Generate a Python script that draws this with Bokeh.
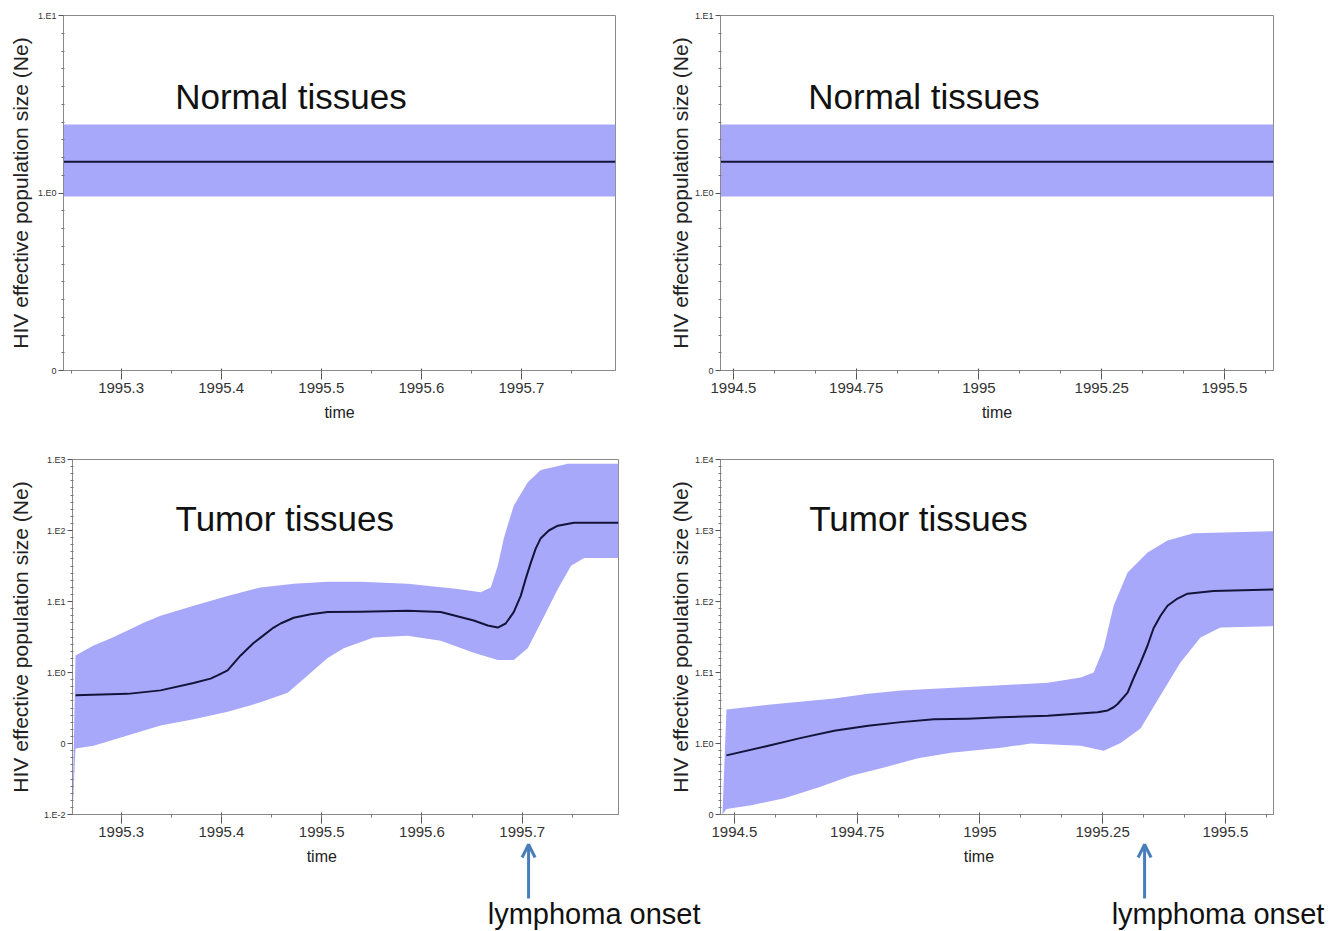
import math
from bokeh.plotting import figure
from bokeh.layouts import column, row
from bokeh.models import FixedTicker, CustomJSTickFormatter, Label, Arrow, OpenHead, Range1d
from bokeh.embed import file_html
from bokeh.resources import INLINE

# ---------------- data ----------------
# Normal tissues (constant skyline) -- left panel (1995.x) and right panel (1994.5-1995.6)
normal_left_t = [1995.2424, 1995.794]
normal_right_t = [1994.4736, 1995.600]
normal_median = [1.5, 1.5]
normal_upper = [2.43, 2.43]
normal_lower = [0.955, 0.955]

# Tumor tissues, left panel
tl_med_t = [1995.2544, 1995.3063, 1995.3392, 1995.3722, 1995.3891, 1995.3961, 1995.4061, 1995.4191,
            1995.4320, 1995.4390, 1995.4520, 1995.4590, 1995.4720, 1995.4889, 1995.5059, 1995.5388,
            1995.5857, 1995.6187, 1995.6516, 1995.6656, 1995.6756, 1995.6835, 1995.6915, 1995.6985,
            1995.7035, 1995.7085, 1995.7135, 1995.7185, 1995.7265, 1995.7355, 1995.7515, 1995.7960]
tl_med = [0.48, 0.50, 0.56, 0.71, 0.82, 0.91, 1.07, 1.74, 2.6, 3.1, 4.3, 4.9, 5.9, 6.6, 7.1, 7.2,
          7.4, 7.1, 5.4, 4.6, 4.3, 4.9, 7.1, 12, 21, 35, 56, 78, 100, 117, 129, 129]
tl_up_t = [1995.2544, 1995.2724, 1995.2893, 1995.3063, 1995.3223, 1995.3392, 1995.3722, 1995.4061,
           1995.4390, 1995.4720, 1995.5059, 1995.5388, 1995.5857, 1995.6356, 1995.6586, 1995.6686,
           1995.6756, 1995.6816, 1995.6915, 1995.7055, 1995.7185, 1995.7455, 1995.7960]
tl_up = [1.74, 2.4, 3.0, 3.9, 5.0, 6.3, 8.7, 12, 15.8, 17.8, 19, 19, 17.8, 15, 13.5, 15.8,
         32, 78, 224, 480, 710, 870, 870]
tl_lo_t = [1995.2514, 1995.2544, 1995.2724, 1995.3063, 1995.3392, 1995.3722, 1995.4061, 1995.4390,
           1995.4660, 1995.4859, 1995.5059, 1995.5219, 1995.5518, 1995.5857, 1995.6187, 1995.6516,
           1995.6756, 1995.6915, 1995.7055, 1995.7185, 1995.7355, 1995.7487, 1995.7617, 1995.7960]
tl_lo = [0.01, 0.085, 0.093, 0.13, 0.18, 0.22, 0.28, 0.38, 0.52, 0.91, 1.6, 2.2, 3.1, 3.3, 2.8,
         1.9, 1.5, 1.5, 2.2, 5.0, 15, 32, 41, 41]

# Tumor tissues, right panel
tr_med_t = [1994.4837, 1994.5691, 1994.6362, 1994.7033, 1994.7724, 1994.8394, 1994.9065, 1994.9756,
            1995.0427, 1995.1382, 1995.2398, 1995.2602, 1995.2724, 1995.2805, 1995.3008, 1995.3130,
            1995.3272, 1995.3415, 1995.3537, 1995.3679, 1995.3821, 1995.4024, 1995.4228, 1995.4756,
            1995.5976]
tr_med = [0.68, 0.93, 1.2, 1.51, 1.78, 2.0, 2.19, 2.24, 2.34, 2.45, 2.75, 2.92, 3.24, 3.6, 5.2,
          8.3, 13.8, 24, 42, 63, 87, 110, 129, 141, 148]
tr_up_t = [1994.4837, 1994.5691, 1994.7033, 1994.7724, 1994.8394, 1994.9065, 1995.0427, 1995.1382,
           1995.2053, 1995.2317, 1995.2520, 1995.2724, 1995.3008, 1995.3415, 1995.3821, 1995.4350,
           1995.5976]
tr_up = [3.0, 3.5, 4.3, 5.0, 5.6, 5.9, 6.6, 7.2, 8.5, 10, 22, 87, 257, 490, 724, 912, 977]
tr_lo_t = [1994.4756, 1994.4837, 1994.5346, 1994.6016, 1994.6707, 1994.7378, 1994.8049, 1994.8740,
           1994.9411, 1995.0427, 1995.1037, 1995.2053, 1995.2520, 1995.2866, 1995.3272, 1995.3679,
           1995.4085, 1995.4492, 1995.4898, 1995.5976]
tr_lo = [0.1, 0.12, 0.135, 0.17, 0.24, 0.35, 0.46, 0.62, 0.74, 0.87, 1.0, 0.93, 0.79, 1.02, 1.62,
         4.8, 13.8, 31, 43, 45]

left_xticks = [1995.3, 1995.4, 1995.5, 1995.6, 1995.7]
right_xticks = [1994.5, 1994.75, 1995.0, 1995.25, 1995.5]

# lymphoma onset times
onset_left = 1995.7063
onset_right = 1995.3354

# ---------------- style ----------------
FONT = "Liberation Sans"
BAND = "#a7a8f9"
LINE = "#14143a"
AXIS = "#8a8a8a"
ARROW = "#4a7ebb"

yfmt_code = "const e = Math.round(Math.log10(tick)); return e == -1 ? '0' : '1.E' + e;"
xfmt_code = "return String(Math.round(tick*100)/100);"


def make_fig(width, height, bl, br, bt, bb, xr, yr, xticks, xminor_step, ylab_standoff, xlabel=True):
    p = figure(width=width, height=height, x_range=Range1d(*xr), y_range=Range1d(*yr),
               y_axis_type="log", output_backend="svg", toolbar_location=None,
               min_border_left=bl, min_border_right=br, min_border_top=bt, min_border_bottom=bb)
    p.grid.visible = False
    p.outline_line_color = AXIS
    p.outline_line_width = 1
    lo_e = round(math.log10(yr[0]))
    hi_e = round(math.log10(yr[1]))
    yt = [10.0 ** k for k in range(lo_e, hi_e + 1)]
    ym = [10.0 ** (k + i / 10) for k in range(lo_e, hi_e) for i in range(1, 10)]
    p.yaxis.ticker = FixedTicker(ticks=yt, minor_ticks=ym)
    p.yaxis.formatter = CustomJSTickFormatter(code=yfmt_code)
    n = int(round((xr[1] - xr[0]) / xminor_step)) + 8
    start = xticks[0] - 2 * xminor_step
    xm = [start + i * xminor_step for i in range(n)]
    p.xaxis.ticker = FixedTicker(ticks=xticks, minor_ticks=xm)
    p.xaxis.formatter = CustomJSTickFormatter(code=xfmt_code)

    p.yaxis.axis_label = "HIV effective population size (Ne)"
    if xlabel:
        p.xaxis.axis_label = "time"
    for ax in (p.xaxis[0], p.yaxis[0]):
        ax.axis_line_color = AXIS
        ax.major_tick_line_color = "#555555"
        ax.minor_tick_line_color = "#777777"
        ax.axis_label_text_font = FONT
        ax.axis_label_text_font_style = "normal"
        ax.axis_label_text_color = "#222222"
        ax.major_label_text_font = FONT
        ax.major_label_text_color = "#333333"
    p.yaxis.major_tick_out = 5
    p.yaxis.major_tick_in = 0
    p.yaxis.minor_tick_out = 2
    p.yaxis.minor_tick_in = 1
    p.yaxis.major_label_text_font_size = "9px"
    p.yaxis.major_label_standoff = 2
    p.yaxis.axis_label_text_font_size = "21px"
    p.yaxis.axis_label_standoff = ylab_standoff
    p.xaxis.major_tick_out = 9
    p.xaxis.major_tick_in = 2
    p.xaxis.minor_tick_out = 3
    p.xaxis.minor_tick_in = 0
    p.xaxis.major_label_text_font_size = "15px"
    p.xaxis.major_label_standoff = 3
    p.xaxis.axis_label_text_font_size = "16px"
    p.xaxis.axis_label_standoff = 8
    return p


def add_band(p, up_t, up, lo_t, lo, med_t, med):
    p.patch(list(up_t) + list(lo_t)[::-1], list(up) + list(lo)[::-1],
            fill_color=BAND, line_color=None)
    p.line(med_t, med, line_color=LINE, line_width=2, line_join="round")


def add_title(p, x, y, text):
    p.add_layout(Label(x=x, y=y, text=text, text_font=FONT, text_font_size="35px",
                       text_baseline="middle", text_align="left", text_color="#111111"))


def strip_range(xr, frame_left, frame_w, total_w):
    # time range of a full-width strip sharing a panel's time scale
    scale = frame_w / (xr[1] - xr[0])
    return (xr[0] - frame_left / scale, xr[0] + (total_w - frame_left) / scale)


bl_xr = (1995.2514, 1995.796)
br_xr = (1994.4716, 1995.598)

LEFT_W = 665
RIGHT_W = 672
R_BORDER = 55

# top-left
p1 = make_fig(LEFT_W, 450, 63, 50, 15, 80, (1995.2424, 1995.794), (0.1, 10), left_xticks, 0.05, 3)
add_band(p1, normal_left_t, normal_upper, normal_left_t, normal_lower, normal_left_t, normal_median)
add_title(p1, 1995.354, 3.5, "Normal tissues")

# top-right
p2 = make_fig(RIGHT_W, 450, R_BORDER, 64, 15, 80, (1994.4736, 1995.600), (0.1, 10), right_xticks,
              0.25 / 3, 0)
add_band(p2, normal_right_t, normal_upper, normal_right_t, normal_lower, normal_right_t, normal_median)
add_title(p2, 1994.6524, 3.5, "Normal tissues")

# bottom-left
p3 = make_fig(LEFT_W, 390, 72, 47, 9, 26, bl_xr, (0.01, 1000), left_xticks, 0.05, 9, xlabel=False)
add_band(p3, tl_up_t, tl_up, tl_lo_t, tl_lo, tl_med_t, tl_med)
add_title(p3, 1995.3542, 147, "Tumor tissues")

# bottom-right
p4 = make_fig(RIGHT_W, 390, R_BORDER, 64, 9, 26, br_xr, (0.1, 10000), right_xticks, 0.25 / 3, 0,
              xlabel=False)
add_band(p4, tr_up_t, tr_up, tr_lo_t, tr_lo, tr_med_t, tr_med)
add_title(p4, 1994.6524, 1476, "Tumor tissues")

# full-width strip under the bottom panels: "time" labels, arrows, "lymphoma onset"
TOTAL_W = LEFT_W + RIGHT_W
s = figure(width=TOTAL_W, height=91, x_range=Range1d(*strip_range(bl_xr, 72, 546, TOTAL_W)),
           y_range=Range1d(0, 91), x_axis_location=None, y_axis_location=None,
           output_backend="svg", toolbar_location=None, min_border=0, min_border_left=0,
           min_border_right=0, min_border_top=0, min_border_bottom=0)
s.extra_x_ranges = {"right": Range1d(*strip_range(br_xr, LEFT_W + R_BORDER,
                                                  RIGHT_W - R_BORDER - 64, TOTAL_W))}
s.grid.visible = False
s.outline_line_color = None
for rng, onset, text_x, time_x in (("default", onset_left, 1995.6656, 1995.50),
                                   ("right", onset_right, 1995.2683, 1994.998)):
    s.add_layout(Label(x=time_x, y=75, x_range_name=rng, text="time", text_font=FONT,
                       text_font_size="16px", text_baseline="middle", text_align="center",
                       text_color="#222222"))
    s.add_layout(Arrow(x_start=onset, y_start=33, x_end=onset, y_end=87, x_range_name=rng,
                       line_color=ARROW, line_width=3,
                       end=OpenHead(size=13, line_color=ARROW, line_width=3)))
    s.add_layout(Label(x=text_x, y=18, x_range_name=rng, text="lymphoma onset", text_font=FONT,
                       text_font_size="29px", text_baseline="middle",
                       text_align="left", text_color="#111111"))

layout = column(row(p1, p2), row(p3, p4), s)
open("out.html", "w").write(file_html(layout, INLINE))
